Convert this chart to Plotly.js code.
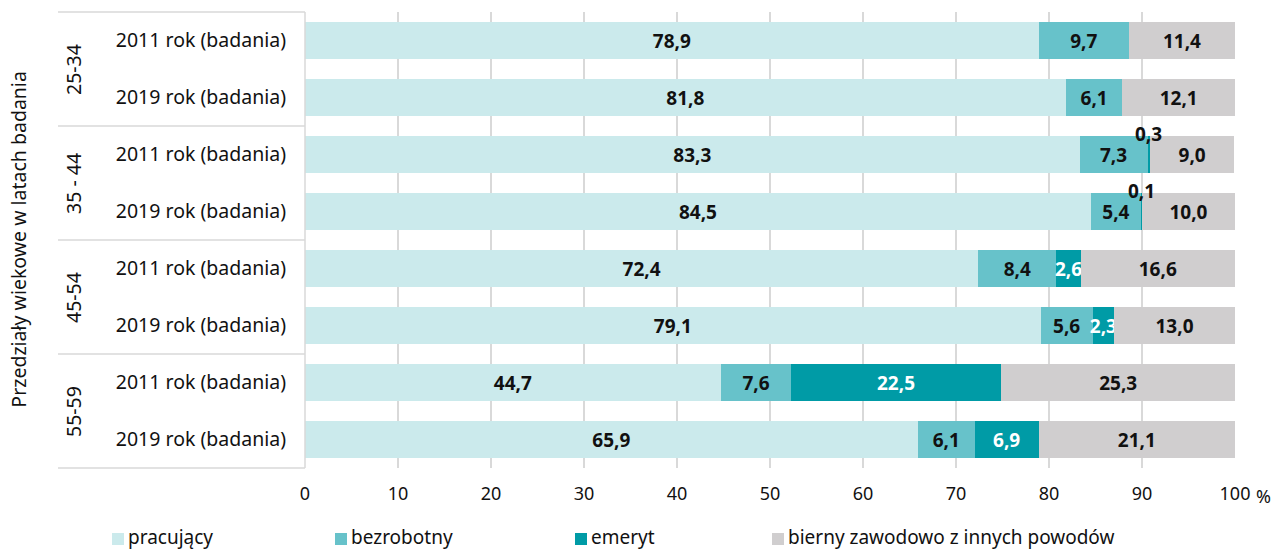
<!DOCTYPE html>
<html>
<head>
<meta charset="utf-8">
<script src="https://cdn.plot.ly/plotly-3.0.1.min.js"></script>
<style>html,body{margin:0;padding:0;background:#fff;}#chart{width:1273px;height:550px;}</style>
</head>
<body>
<div id="chart"></div>
<script>
// ---- data ----
const ageGroups = ['25-34', '35 - 44', '45-54', '55-59'];
const years = ['2011 rok (badania)', '2019 rok (badania)'];
const seriesNames = ['pracujący', 'bezrobotny', 'emeryt', 'bierny zawodowo z innych powodów'];
const pracujacy  = [78.9, 81.8, 83.3, 84.5, 72.4, 79.1, 44.7, 65.9];
const bezrobotny = [9.7, 6.1, 7.3, 5.4, 8.4, 5.6, 7.6, 6.1];
const emeryt     = [0, 0, 0.3, 0.1, 2.6, 2.3, 22.5, 6.9];
const bierny     = [11.4, 12.1, 9.0, 10.0, 16.6, 13.0, 25.3, 21.1];
const xTickVals = [0, 10, 20, 30, 40, 50, 60, 70, 80, 90, 100];
const xTickText = ['0', '10', '20', '30', '40', '50', '60', '70', '80', '90', '100'];

// ---- build ----
const FONT = 'Noto Sans, Open Sans, sans-serif';
const REG = 19.5, BOLD = 19, TICK = 18, LEG = 19;
const colors = ['#cbeaec', '#67c2ca', '#009ba6', '#d0cecf'];
const textColors = ['#111', '#111', '#ffffff', '#111'];
const keys = [], labels = [];
ageGroups.forEach((g, gi) => years.forEach((y, yi) => { keys.push('r' + gi + '_' + yi); labels.push(y); }));
const fmt = v => v.toFixed(1).replace('.', ',');
const allSeries = [pracujacy, bezrobotny, emeryt, bierny];

const traces = allSeries.map((vals, si) => ({
  type: 'bar', orientation: 'h', name: seriesNames[si],
  y: keys, x: vals,
  marker: {color: colors[si], line: {width: 0}},
  text: vals.map(v => (v >= 1 ? fmt(v) : '')),
  textposition: 'inside', insidetextanchor: 'middle', constraintext: 'none', textangle: 0,
  textfont: {family: FONT, size: BOLD, color: textColors[si], weight: 700},
  hoverinfo: 'name+x', showlegend: false
}));

const annotations = [];
// small emeryt values placed above the bar
emeryt.forEach((v, i) => {
  if (v > 0 && v < 1) {
    annotations.push({x: pracujacy[i] + bezrobotny[i] + v / 2, y: i, xref: 'x', yref: 'y',
      xanchor: 'center', yanchor: 'middle',
      text: '<b>' + fmt(v) + '</b>', showarrow: false, yshift: 21,
      font: {family: FONT, size: BOLD, color: '#111'}});
  }
});
// group labels
ageGroups.forEach((g, gi) => {
  annotations.push({x: -0.2495, xref: 'paper', xanchor: 'center', y: gi * 2 + 0.5, yref: 'y', yanchor: 'middle',
    text: g, textangle: -90, showarrow: false, font: {family: FONT, size: REG, color: '#111'}});
});
// axis title
annotations.push({x: -0.309, xref: 'paper', xanchor: 'center', y: 0.5, yref: 'paper', yanchor: 'middle',
  text: 'Przedziały wiekowe w latach badania', textangle: -90, showarrow: false,
  font: {family: FONT, size: REG, color: '#111'}});
// percent sign after 100
annotations.push({x: 100, xref: 'x', y: 0, yref: 'paper', yanchor: 'top', xanchor: 'left', xshift: 19, yshift: -14,
  text: '%', showarrow: false, font: {family: FONT, size: TICK, color: '#111'}});

const shapes = [];
const lineC = '#d9d9d9';
const boxX0 = (58 - 305) / 930;
shapes.push({type: 'line', xref: 'paper', yref: 'paper', x0: boxX0, x1: 0, y0: 1, y1: 1, line: {color: lineC, width: 1.5}});
shapes.push({type: 'line', xref: 'paper', yref: 'paper', x0: boxX0, x1: 0, y0: 0, y1: 0, line: {color: lineC, width: 1.5}});
shapes.push({type: 'line', xref: 'paper', yref: 'paper', x0: 0, x1: 0, y0: 0, y1: 1, line: {color: lineC, width: 1.5}});
[1.5, 3.5, 5.5].forEach(yv => shapes.push({type: 'line', xref: 'paper', yref: 'y', x0: boxX0, x1: 0, y0: yv, y1: yv, line: {color: lineC, width: 1.5}}));

// manual legend
const legX = [112, 335, 575, 772];
const pyOf = px => (550 - 82 - px) / 456;
seriesNames.forEach((n, si) => {
  const x0 = (legX[si] - 305) / 930, x1 = (legX[si] + 12 - 305) / 930;
  shapes.push({type: 'rect', xref: 'paper', yref: 'paper', x0: x0, x1: x1, y0: pyOf(545), y1: pyOf(533),
    fillcolor: colors[si], line: {width: 0}});
  annotations.push({x: (legX[si] + 15 - 305) / 930, xref: 'paper', xanchor: 'left',
    y: pyOf(537), yref: 'paper', yanchor: 'middle', text: n, showarrow: false, borderpad: 0,
    font: {family: FONT, size: LEG, color: '#111'}});
});

const layout = {
  width: 1273, height: 550,
  margin: {l: 305, r: 38, t: 12, b: 82, pad: 0},
  paper_bgcolor: '#fff', plot_bgcolor: '#fff',
  barmode: 'stack', bargap: 0.35,
  showlegend: false,
  font: {family: FONT, color: '#111'},
  xaxis: {range: [0, 100], tickvals: xTickVals, ticktext: xTickText, showgrid: true,
    gridcolor: lineC, gridwidth: 2, zeroline: false, showline: false, ticks: '',
    ticklabelstandoff: 13, tickfont: {family: FONT, size: TICK, color: '#111'}, fixedrange: true},
  yaxis: {type: 'category', categoryorder: 'array', categoryarray: keys, tickvals: keys, ticktext: labels,
    autorange: 'reversed', showgrid: false, zeroline: false, showline: false, ticks: '',
    ticklabelstandoff: 18, tickfont: {family: FONT, size: REG, color: '#111'}, fixedrange: true},
  annotations: annotations, shapes: shapes
};

Plotly.newPlot('chart', traces, layout, {displayModeBar: false, staticPlot: true});
</script>
</body>
</html>
